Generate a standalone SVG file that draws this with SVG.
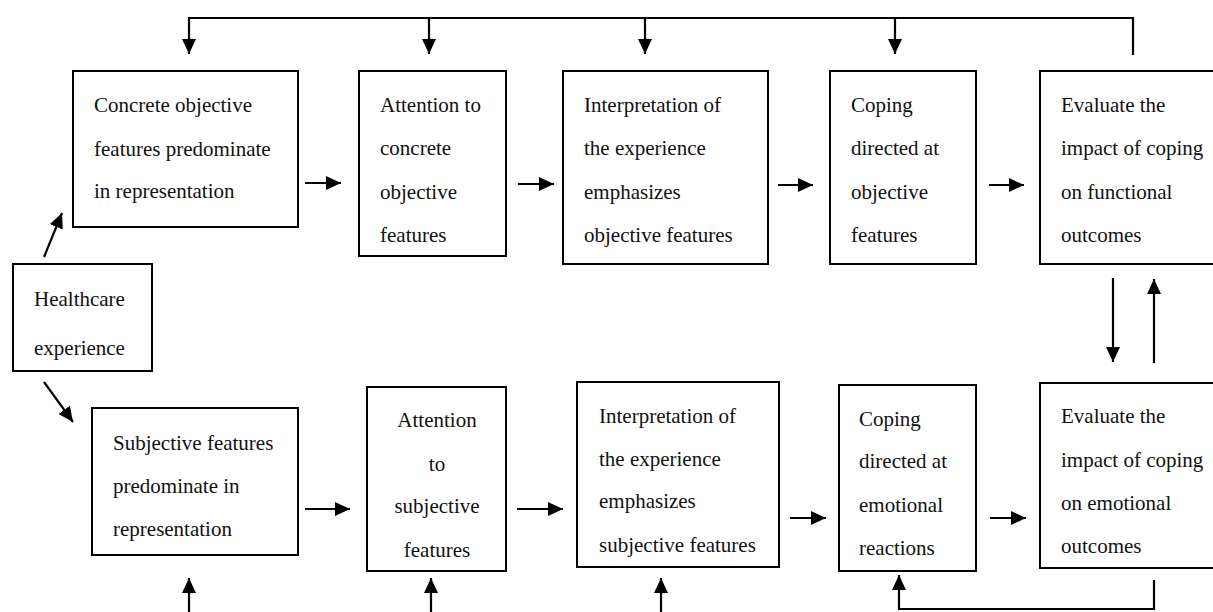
<svg xmlns="http://www.w3.org/2000/svg" width="1213" height="612" viewBox="0 0 1213 612">
<style>
.box{fill:#fff;stroke:#000;stroke-width:2}
.t{font-family:'Liberation Serif','Tinos','Noto Serif','DejaVu Serif',serif;font-size:21px;fill:#111}
.c{fill:none;stroke:#000;stroke-width:2.2}
.a{fill:none;stroke:#000;stroke-width:2.2;marker-end:url(#ah)}
</style>
<defs>
<marker id="ah" markerUnits="userSpaceOnUse" markerWidth="16" markerHeight="15" refX="15" refY="7" orient="auto">
<path d="M0,0 L15,7 L0,14 z" fill="#000"/>
</marker>
</defs>
<rect width="1213" height="612" fill="#fff"/>
<g id="connectors">
<polyline class="c" points="189,18 1133,18 1133,55"/>
<line class="a" x1="189" y1="17" x2="189" y2="54"/>
<line class="a" x1="429" y1="18" x2="429" y2="54"/>
<line class="a" x1="645" y1="18" x2="645" y2="54"/>
<line class="a" x1="895" y1="18" x2="895" y2="54"/>
<line class="a" x1="305" y1="183" x2="341" y2="183"/>
<line class="a" x1="518" y1="184" x2="554" y2="184"/>
<line class="a" x1="778" y1="185" x2="813" y2="185"/>
<line class="a" x1="989" y1="185" x2="1024" y2="185"/>
<line class="a" x1="44" y1="257" x2="62" y2="213"/>
<line class="a" x1="44" y1="382" x2="73" y2="422"/>
<line class="a" x1="1113" y1="278" x2="1113" y2="362"/>
<line class="a" x1="1154" y1="363" x2="1154" y2="279"/>
<line class="a" x1="305" y1="509" x2="350" y2="509"/>
<line class="a" x1="517" y1="509" x2="563" y2="509"/>
<line class="a" x1="790" y1="518" x2="826" y2="518"/>
<line class="a" x1="990" y1="518" x2="1026" y2="518"/>
<line class="a" x1="189" y1="612" x2="189" y2="578"/>
<line class="a" x1="431" y1="612" x2="431" y2="578"/>
<line class="a" x1="661" y1="612" x2="661" y2="578"/>
<line class="a" x1="899" y1="610" x2="899" y2="575"/>
<polyline class="c" points="899,609 1154,609 1154,580"/>
</g>
<g id="n-healthcare">
<rect class="box" x="13" y="264" width="139" height="107"/>
<text class="t" x="34" y="306">Healthcare</text>
<text class="t" x="34" y="355">experience</text>
</g>
<g id="n-concrete">
<rect class="box" x="73" y="71" width="225" height="156"/>
<text class="t" x="94" y="112">Concrete objective</text>
<text class="t" x="94" y="156">features predominate</text>
<text class="t" x="94" y="198">in representation</text>
</g>
<g id="n-attn-obj">
<rect class="box" x="359" y="71" width="147" height="185"/>
<text class="t" x="380" y="112">Attention to</text>
<text class="t" x="380" y="155">concrete</text>
<text class="t" x="380" y="199">objective</text>
<text class="t" x="380" y="242">features</text>
</g>
<g id="n-interp-obj">
<rect class="box" x="563" y="71" width="205" height="193"/>
<text class="t" x="584" y="112">Interpretation of</text>
<text class="t" x="584" y="155">the experience</text>
<text class="t" x="584" y="199">emphasizes</text>
<text class="t" x="584" y="242">objective features</text>
</g>
<g id="n-coping-obj">
<rect class="box" x="830" y="71" width="146" height="193"/>
<text class="t" x="851" y="112">Coping</text>
<text class="t" x="851" y="155">directed at</text>
<text class="t" x="851" y="199">objective</text>
<text class="t" x="851" y="242">features</text>
</g>
<g id="n-eval-func">
<rect class="box" x="1040" y="71" width="175" height="193"/>
<text class="t" x="1061" y="112">Evaluate the</text>
<text class="t" x="1061" y="155">impact of coping</text>
<text class="t" x="1061" y="199">on functional</text>
<text class="t" x="1061" y="242">outcomes</text>
</g>
<g id="n-subjective">
<rect class="box" x="92" y="408" width="206" height="147"/>
<text class="t" x="113" y="450">Subjective features</text>
<text class="t" x="113" y="493">predominate in</text>
<text class="t" x="113" y="536">representation</text>
</g>
<g id="n-attn-subj">
<rect class="box" x="367" y="387" width="139" height="184"/>
<text class="t" x="437" y="427" text-anchor="middle">Attention</text>
<text class="t" x="437" y="471" text-anchor="middle">to</text>
<text class="t" x="437" y="513" text-anchor="middle">subjective</text>
<text class="t" x="437" y="557" text-anchor="middle">features</text>
</g>
<g id="n-interp-subj">
<rect class="box" x="577" y="382" width="202" height="185"/>
<text class="t" x="599" y="423">Interpretation of</text>
<text class="t" x="599" y="466">the experience</text>
<text class="t" x="599" y="508">emphasizes</text>
<text class="t" x="599" y="552">subjective features</text>
</g>
<g id="n-coping-emo">
<rect class="box" x="839" y="385" width="137" height="186"/>
<text class="t" x="859" y="426">Coping</text>
<text class="t" x="859" y="468">directed at</text>
<text class="t" x="859" y="512">emotional</text>
<text class="t" x="859" y="555">reactions</text>
</g>
<g id="n-eval-emo">
<rect class="box" x="1040" y="383" width="175" height="185"/>
<text class="t" x="1061" y="423">Evaluate the</text>
<text class="t" x="1061" y="467">impact of coping</text>
<text class="t" x="1061" y="510">on emotional</text>
<text class="t" x="1061" y="553">outcomes</text>
</g>
</svg>
